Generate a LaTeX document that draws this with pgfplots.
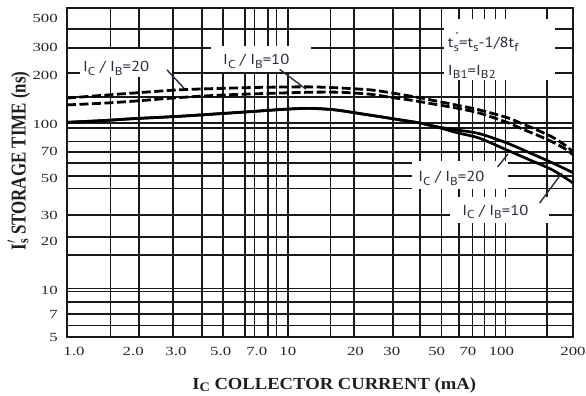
\documentclass[border=0pt]{standalone}
\usepackage{pgfplots}
\pgfplotsset{compat=1.18}
\usepackage{graphicx}
\usepackage{fontspec}
\setmainfont{Liberation Serif}
\newfontfamily\annfont{PT Sans}
\definecolor{anncol}{RGB}{45,45,62}
\definecolor{gridcol}{RGB}{25,25,25}
\newcommand\sx[1]{\scalebox{1.35}[1]{#1}}
\newcommand\ann[1]{{\annfont\fontsize{14.5}{16}\selectfont\scalebox{1.15}[1]{#1}}}
\newcommand\lo[1]{\raisebox{-0.45ex}{\fontsize{11.5}{12}\selectfont #1}}
\begin{document}
\begin{tikzpicture}
\useasboundingbox (-67bp,-59bp) rectangle (519bp,337bp);
\begin{axis}[
  scale only axis, width=506bp, height=329bp,
  xmode=log, ymode=log,
  xmin=1, xmax=200, ymin=5, ymax=586,
  xtick={1.58,2.12,3.03,4.11,5.12,6.44,7.14,8.19,8.99,10.1,15.8,20.2,30.4,40.3,50.4,60.7,69.7,79.1,88.8,98.6,152},
  xticklabels={},
  ytick={5.9,7.0,8.3,9.65,10.1,16.4,21.3,29.2,43,51.5,62,73,85,103,111,161,229,329,432},
  yticklabels={},
  minor xtick={}, minor ytick={},
  grid=major,
  major grid style={line width=1.5bp, gridcol},
  major tick length=0pt,
  extra x ticks={1.076,2,3.13,5,7.3,10.1,20.5,30,48,66.6,94.5,200},
  extra x tick labels={\sx{1.0},\sx{2.0},\sx{3.0},\sx{5.0},\sx{7.0},\sx{10},\sx{20},\sx{30},\sx{50},\sx{70},\sx{100},\sx{200}},
  extra y ticks={5,6.9,9.8,20,29,50,73,108,222,329,507},
  extra y tick labels={\sx{5},\sx{7},\sx{10},\sx{20},\sx{30},\sx{50},\sx{70},\sx{100},\sx{200},\sx{300},\sx{500}},
  extra tick style={grid=none, major tick length=0pt},
  axis line style={line width=1.5bp, gridcol},
  xticklabel style={anchor=north, inner sep=0pt, yshift=-10bp, font=\fontsize{12.5}{13}\selectfont, text=black!85},
  yticklabel style={anchor=east, inner sep=0pt, xshift=-9bp, font=\fontsize{12.5}{13}\selectfont, text=black!85},
  xlabel={\scalebox{1.1}[1]{I\raisebox{-0.25ex}{\fontsize{13}{14}\selectfont C} COLLECTOR CURRENT (mA)}},
  xlabel style={at={(axis description cs:0.528,-0.161)}, anchor=base, inner sep=0pt, font=\bfseries\fontsize{17}{20}\selectfont, text=black!88},
  ylabel={\scalebox{1}[1.25]{I\rlap{\raisebox{1.0ex}{\fontsize{12}{12}\selectfont$\prime$}}\raisebox{-0.3ex}{\fontsize{12}{12}\selectfont s} STORAGE TIME (ns)}},
  ylabel style={at={(axis description cs:-0.082,0.535)}, anchor=base, inner sep=0pt, font=\bfseries\fontsize{17}{20}\selectfont, text=black!88},
]
% white label boxes covering the grid
\fill[white] (axis cs:1.146,322) rectangle (axis cs:3.0,216);
\fill[white] (axis cs:4.52,340) rectangle (axis cs:12.9,232);
\fill[white] (axis cs:51.9,500) rectangle (axis cs:165,207);
\fill[white] (axis cs:37.1,63.5) rectangle (axis cs:101.3,42.4);
\fill[white] (axis cs:55.1,38.0) rectangle (axis cs:156,26.1);

% IC/IB = 10 dashed (upper)
\addplot[black, line width=2.8bp, dash pattern=on 9bp off 3.5bp, smooth] coordinates {
(1,159) (1.5,166) (2,171) (3.2,179) (5,183) (8,186) (12.7,187) (17.5,184) (24,179) (29.4,172) (37,163) (45,155) (60,143) (75,134) (100,120) (115,111) (140,99) (162,90) (185,80) (200,73)};
% IC/IB = 20 dashed (lower)
\addplot[black, line width=2.8bp, dash pattern=on 9bp off 3.5bp, smooth] coordinates {
(1,144) (1.5,148) (2,152) (3.2,160) (5,166) (8,170) (12.7,173) (17.5,173) (24,168) (29.4,161) (37,154) (45,147) (60,137) (75,128) (100,112) (115,103) (140,92) (162,84) (185,76) (200,70)};
% IC/IB = 20 solid (upper)
\addplot[black, line width=2.7bp, smooth] coordinates {
(1,112) (1.5,115) (2,118) (3.2,122) (5,127) (7,131) (10,135.5) (12.7,137) (15.7,135) (18,132) (21.5,127) (27,121) (32.6,116) (40,111) (45,107) (50,104) (60,100) (75,95) (100,83) (127,72) (162,62) (200,54)};
% IC/IB = 10 solid (lower)
\addplot[black, line width=2.7bp, smooth] coordinates {
(1,112) (1.5,115) (2,118) (3.2,122) (5,127) (7,131) (10,135.5) (12.7,137) (15.7,135) (18,132) (21.5,127) (27,121) (32.6,116) (40,111) (45,107) (50,103) (60,96) (75,89) (100,75) (127,65) (162,56) (200,46.5)};

% pointers
\draw[line width=1.4bp, anncol] (axis cs:2.85,239) -- (axis cs:3.40,184);
\draw[line width=1.4bp, anncol] (axis cs:9.27,241) -- (axis cs:12.2,181);
\draw[line width=1.4bp, anncol] (axis cs:90.8,58.7) -- (axis cs:101.3,70.8);
\draw[line width=1.4bp, anncol] (axis cs:141,34.8) -- (axis cs:178,53.7);

% annotations
\node[anchor=base west, inner sep=0pt, text=anncol] at (axis cs:1.18,232) {\ann{I\lo{C} / I\lo{B}=20}};
\node[anchor=base west, inner sep=0pt, text=anncol] at (axis cs:5.12,257) {\ann{I\lo{C} / I\lo{B}=10}};
\node[anchor=base west, inner sep=0pt, text=anncol] at (axis cs:53.9,328.6) {\ann{t\rlap{\raisebox{1.0ex}{\fontsize{11.5}{12}\selectfont\,\textquoteright}}\lo{s}=t\lo{s}-1/8t\lo{f}}};
\node[anchor=base west, inner sep=0pt, text=anncol] at (axis cs:53.9,222) {\ann{I\lo{B1}=I\lo{B2}}};
\node[anchor=base west, inner sep=0pt, text=anncol] at (axis cs:39.5,47.2) {\ann{I\lo{C} / I\lo{B}=20}};
\node[anchor=base west, inner sep=0pt, text=anncol] at (axis cs:62.6,29.2) {\ann{I\lo{C} / I\lo{B}=10}};
\end{axis}
\end{tikzpicture}
\end{document}
